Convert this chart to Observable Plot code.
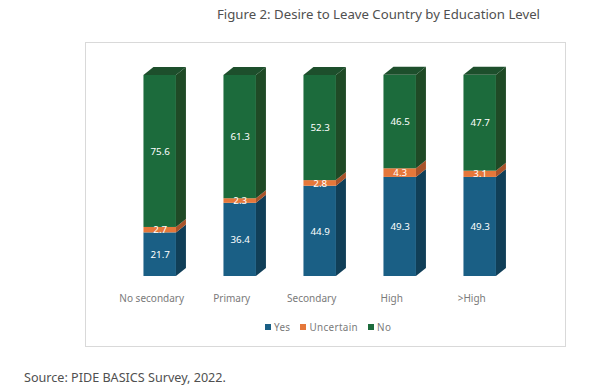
<!DOCTYPE html>
<html>
<head>
<meta charset="utf-8">
<script src="https://cdn.jsdelivr.net/npm/d3@7"></script>
<script src="https://cdn.jsdelivr.net/npm/@observablehq/plot@0.6"></script>
<style>
  html, body { margin: 0; padding: 0; background: #fff; }
  #wrap { position: relative; width: 601px; height: 391px; overflow: hidden; font-family: "Noto Sans", sans-serif; }
  #frame { position: absolute; left: 85px; top: 42px; width: 479px; height: 303px; border: 1px solid #d9d9d9; }
  #chart { position: absolute; left: 0; top: 0; }
  #chart svg { background: transparent !important; display: block; }
  .t { position: absolute; white-space: nowrap; color: #505050; }
  #title { left: 217px; top: 5px; font-size: 13.2px; line-height: 18px; }
  #source { left: 24px; top: 370px; font-size: 12.6px; line-height: 16px; }
  #legend { left: 265px; top: 320px; font-size: 9.9px; line-height: 14px; color: #7a7a7a; letter-spacing: .35px; display: flex; align-items: center; }
  #legend i { display: inline-block; width: 6px; height: 6px; margin-right: 3px; }
  #legend span { display: flex; align-items: center; margin-right: 10px; }
</style>
</head>
<body>
<div id="wrap">
  <div id="title" class="t">Figure 2: Desire to Leave Country by Education Level</div>
  <div id="frame"></div>
  <div id="chart"></div>
  <div id="legend" class="t"></div>
  <div id="source" class="t">Source: PIDE BASICS Survey, 2022.</div>
</div>
<script>
const levels = ["No secondary", "Primary", "Secondary", "High", ">High"];
const seriesNames = ["Yes", "Uncertain", "No"];
const yesValues = [21.7, 36.4, 44.9, 49.3, 49.3];
const uncertainValues = [2.7, 2.3, 2.8, 4.3, 3.1];
const noValues = [75.6, 61.3, 52.3, 46.5, 47.7];
const frontColors = ["#1a5f85", "#e5773a", "#1c6b3c"];
const sideColors = ["#103f58", "#a9532a", "#1f4a26"];
const topColor = "#1d4f2c";
const depthX = 10, depthY = 8;

const rows = [];
[yesValues, uncertainValues, noValues].forEach((vals, s) => {
  vals.forEach((v, i) => rows.push({level: levels[i], series: seriesNames[s], value: v}));
});

const SVGNS = "http://www.w3.org/2000/svg";
function addFaces(index, scales, values, dimensions, context, next) {
  const g = next(index, scales, values, dimensions, context);
  const rects = Array.from(g.querySelectorAll("rect"));
  const group = document.createElementNS(SVGNS, "g");
  rects.forEach((r, k) => {
    const d = rows[index[k]];
    const x = +r.getAttribute("x"), y = +r.getAttribute("y");
    const w = +r.getAttribute("width"), h = +r.getAttribute("height");
    const side = document.createElementNS(SVGNS, "polygon");
    side.setAttribute("points", [[x+w,y],[x+w+depthX,y-depthY],[x+w+depthX,y+h-depthY],[x+w,y+h]].join(" "));
    side.setAttribute("fill", sideColors[seriesNames.indexOf(d.series)]);
    group.appendChild(side);
    if (d.series === "No") {
      const top = document.createElementNS(SVGNS, "polygon");
      top.setAttribute("points", [[x,y],[x+depthX,y-depthY],[x+w+depthX,y-depthY],[x+w,y]].join(" "));
      top.setAttribute("fill", topColor);
      group.appendChild(top);
    }
  });
  g.appendChild(group);
  return g;
}

const plot = Plot.plot({
  width: 601,
  height: 391,
  marginLeft: 119.7,
  marginRight: 81.3,
  marginTop: 75,
  marginBottom: 115,
  style: {background: "transparent", fontFamily: "'Noto Sans', sans-serif"},
  x: {domain: levels, paddingInner: 0.594, paddingOuter: 0.297, round: false, label: null},
  y: {domain: [0, 100], axis: null},
  color: {domain: seriesNames, range: frontColors},
  marks: [
    Plot.barY(rows, Plot.stackY({x: "level", y: "value", z: "series", fill: "series", order: null, render: addFaces})),
    Plot.text(rows, Plot.stackY({x: "level", y: "value", z: "series", order: null, text: d => d.value.toFixed(1), fill: "#fff", fontSize: 9.8})),
    Plot.axisX({tickSize: 0, tickPadding: 18, dx: -8.5, fontSize: 10, color: "#7a7a7a", label: null, style: {letterSpacing: "0.35px"}})
  ]
});
document.getElementById("chart").appendChild(plot);

const legend = document.getElementById("legend");
seriesNames.forEach((name, i) => {
  const s = document.createElement("span");
  const sw = document.createElement("i");
  sw.style.background = frontColors[i];
  s.appendChild(sw);
  s.appendChild(document.createTextNode(name));
  legend.appendChild(s);
});
</script>
</body>
</html>
